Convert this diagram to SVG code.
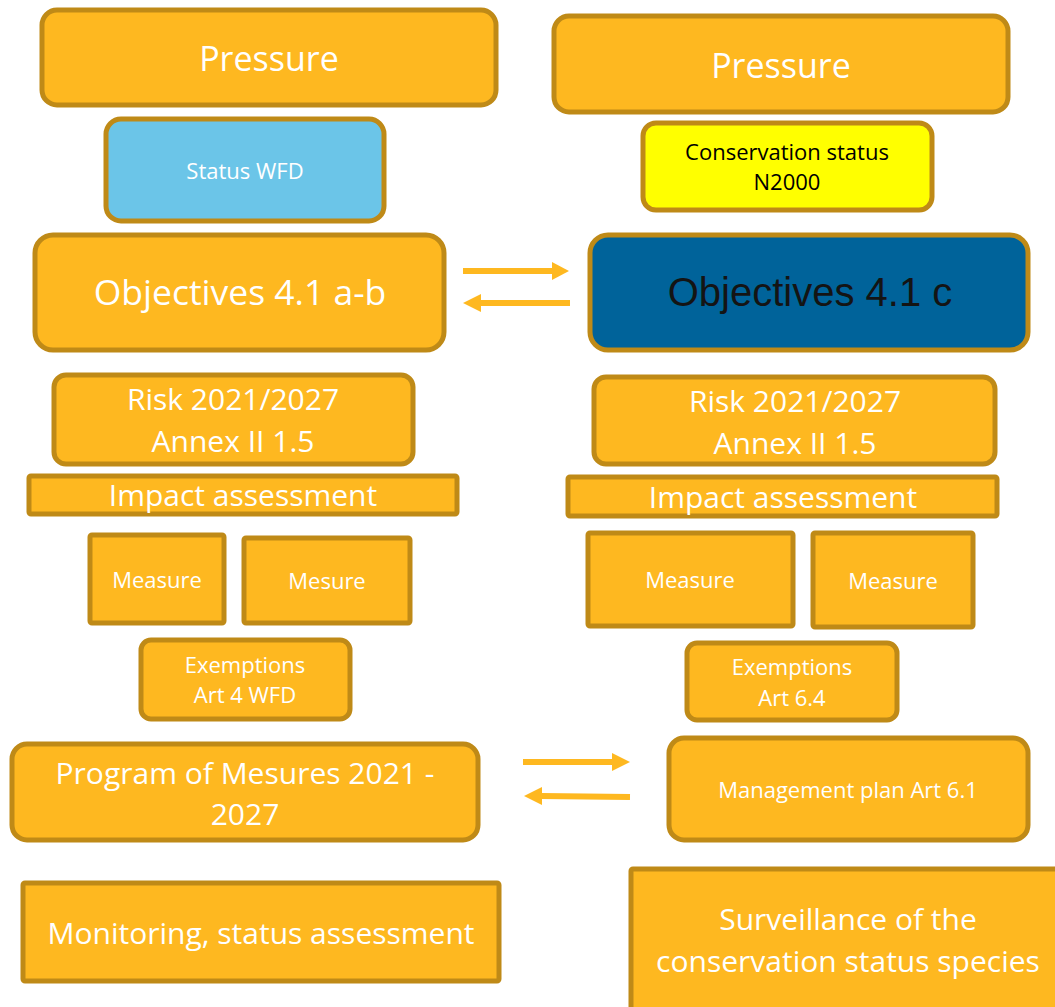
<svg xmlns="http://www.w3.org/2000/svg" width="1055" height="1007" viewBox="0 0 1055 1007">
<defs>
<style>
.n{fill:#FEB820;stroke:#BF8A17;stroke-width:5}
.t{font-family:"Open Sans","Noto Sans",sans-serif;fill:#FFFFFF;text-anchor:middle}
.big{font-size:34px}
.obj{font-size:35.5px}
.mid{font-size:30px}
.sm{font-size:22px}
.ar{stroke:#FEB820;stroke-width:6;fill:none}
.ah{fill:#FEB820}
</style>
</defs>
<rect width="1055" height="1007" fill="#FFFFFF"/>
<g id="connectors">
<line class="ar" x1="463" y1="271" x2="553" y2="271"/>
<polygon class="ah" points="552,262 569,271 552,280"/>
<line class="ar" x1="570" y1="303" x2="480" y2="303"/>
<polygon class="ah" points="481,294 463,303 481,312"/>
<line class="ar" x1="523" y1="762" x2="613" y2="762"/>
<polygon class="ah" points="612,753 630,762 612,771"/>
<line class="ar" x1="630" y1="797" x2="541" y2="796"/>
<polygon class="ah" points="542,787 524,796 542,805"/>
</g>
<g id="pressure-left"><rect class="n" x="42" y="10" width="454" height="95" rx="15"/><text class="t big" x="269" y="71">Pressure</text></g>
<g id="pressure-right"><rect class="n" x="554" y="16" width="454" height="96" rx="15"/><text class="t big" x="781" y="78">Pressure</text></g>
<g id="status-wfd"><rect class="n" x="106" y="119" width="278" height="102" rx="15" style="fill:#6BC5E8"/><text class="t sm" x="245" y="179">Status WFD</text></g>
<g id="conservation-status"><rect class="n" x="643" y="123" width="289" height="87" rx="13" style="fill:#FFFF00"/><text class="t sm" x="787" y="160" style="fill:#000000">Conservation status</text><text class="t sm" x="787" y="190" style="fill:#000000">N2000</text></g>
<g id="objectives-ab"><rect class="n" x="35" y="235" width="409" height="115" rx="18"/><text class="t obj" x="240" y="305">Objectives 4.1 a-b</text></g>
<g id="objectives-c"><rect class="n" x="590" y="235" width="438" height="115" rx="18" style="fill:#00639A"/><text x="810" y="306" style="font-family:'Liberation Sans',Arial,sans-serif;font-size:40px;fill:#141414;text-anchor:middle">Objectives 4.1 c</text></g>
<g id="risk-left"><rect class="n" x="54" y="375" width="359" height="89" rx="12"/><text class="t mid" x="233" y="410">Risk 2021/2027</text><text class="t mid" x="233" y="452">Annex II 1.5</text></g>
<g id="risk-right"><rect class="n" x="594" y="377" width="401" height="87" rx="12"/><text class="t mid" x="795" y="412">Risk 2021/2027</text><text class="t mid" x="795" y="454">Annex II 1.5</text></g>
<g id="impact-left"><rect class="n" x="29" y="476" width="428" height="38" rx="2"/><text class="t mid" x="243" y="506">Impact assessment</text></g>
<g id="impact-right"><rect class="n" x="568" y="477" width="429" height="39" rx="2"/><text class="t mid" x="783" y="508">Impact assessment</text></g>
<g id="measure-l1"><rect class="n" x="90" y="535" width="134" height="88" rx="2"/><text class="t sm" x="157" y="588">Measure</text></g>
<g id="mesure-l2"><rect class="n" x="244" y="538" width="166" height="85" rx="2"/><text class="t sm" x="327" y="589">Mesure</text></g>
<g id="measure-r1"><rect class="n" x="588" y="533" width="205" height="93" rx="2"/><text class="t sm" x="690" y="588">Measure</text></g>
<g id="measure-r2"><rect class="n" x="813" y="533" width="160" height="94" rx="2"/><text class="t sm" x="893" y="589">Measure</text></g>
<g id="exemptions-left"><rect class="n" x="141" y="640" width="209" height="79" rx="10"/><text class="t sm" x="245" y="673">Exemptions</text><text class="t sm" x="245" y="703">Art 4 WFD</text></g>
<g id="exemptions-right"><rect class="n" x="687" y="643" width="210" height="77" rx="10"/><text class="t sm" x="792" y="675">Exemptions</text><text class="t sm" x="792" y="706">Art 6.4</text></g>
<g id="program-of-mesures"><rect class="n" x="12" y="744" width="466" height="96" rx="15"/><text class="t mid" x="245" y="784">Program of Mesures 2021 -</text><text class="t mid" x="245" y="825">2027</text></g>
<g id="management-plan"><rect class="n" x="669" y="738" width="359" height="102" rx="15"/><text class="t sm" x="848" y="798">Management plan Art 6.1</text></g>
<g id="monitoring"><rect class="n" x="23" y="883" width="476" height="98" rx="2"/><text class="t mid" x="261" y="944">Monitoring, status assessment</text></g>
<g id="surveillance"><rect class="n" x="631" y="869" width="440" height="160" rx="2"/><text class="t mid" x="848" y="930">Surveillance of the</text><text class="t mid" x="848" y="972">conservation status species</text></g>
</svg>
